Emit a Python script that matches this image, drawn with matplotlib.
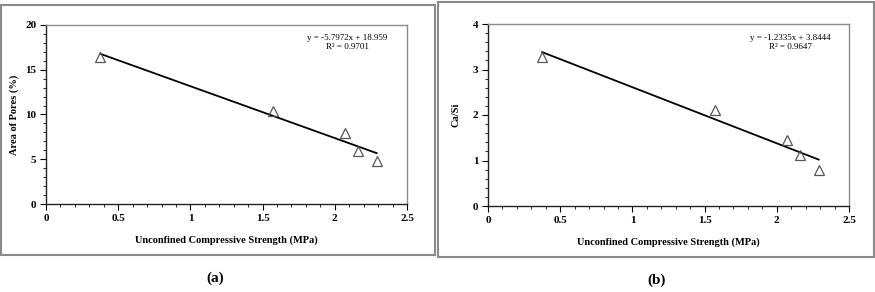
import numpy as np
import matplotlib.pyplot as plt
from matplotlib.patches import Rectangle
plt.switch_backend('agg')

plt.rcParams['font.family'] = ['Liberation Serif', 'DejaVu Serif']

ucs = [0.375, 1.57, 2.07, 2.16, 2.29]
pores = [16.4, 10.4, 7.9, 5.9, 4.8]
ca_si = [3.27, 2.12, 1.45, 1.12, 0.80]

fit_a = (-5.7972, 18.959, 0.9701)
fit_b = (-1.2335, 3.8444, 0.9647)
eq_a = ['y = -5.7972x + 18.959', 'R² = 0.9701']
eq_b = ['y = -1.2335x + 3.8444', 'R² = 0.9647']

fig = plt.figure(figsize=(8.75, 2.92), dpi=100)

# outer frames (pixel coords -> fraction)
W, H = 875., 292.
def frame(x0, y0, x1, y1):
    fig.patches.append(Rectangle((x0 / W, 1 - y1 / H), (x1 - x0) / W, (y1 - y0) / H,
                                 transform=fig.transFigure, fill=False,
                                 edgecolor='#8a8a8a', lw=1.5))

frame(1, 5, 435, 255)
frame(438, 2, 874, 257)

def panel(rect, y, fit, ylim, yticks, ylabel, eq, eq_xy, ylab_x):
    ax = fig.add_axes(rect)
    xs = np.array([ucs[0], ucs[-1]])
    ax.plot(xs, fit[0] * xs + fit[1], color='k', lw=1.3)
    ax.plot(ucs, y, linestyle='none', marker='^', markersize=6.5,
            markerfacecolor='none', markeredgecolor='#555555', markeredgewidth=0.9)
    ax.set_xlim(0, 2.5)
    ax.set_ylim(*ylim)
    ax.set_xticks([0, 0.5, 1, 1.5, 2, 2.5])
    ax.set_xticklabels(['0', '0.5', '1', '1.5', '2', '2.5'])
    ax.set_xticks(np.arange(0, 2.51, 0.1), minor=True)
    ax.set_yticks(yticks)
    ax.set_yticks(np.arange(ylim[0], ylim[1] + 1e-9, yticks[1] / 5.), minor=True)
    for sp in ['top', 'right']:
        ax.spines[sp].set_color('#8a8a8a')
        ax.spines[sp].set_linewidth(1.0)
    for sp in ['left', 'bottom']:
        ax.spines[sp].set_color('#222222')
        ax.spines[sp].set_linewidth(1.0)
    ax.tick_params(which='major', direction='out', length=4, width=0.8,
                   labelsize=8, pad=3)
    ax.tick_params(which='minor', direction='out', length=2, width=0.6)
    for lab in ax.get_xticklabels() + ax.get_yticklabels():
        lab.set_fontweight('bold')
    ax.set_xlabel('Unconfined Compressive Strength (MPa)', fontsize=7.5,
                  fontweight='bold', labelpad=9)
    ax.set_ylabel(ylabel, fontsize=7.5, fontweight='bold')
    ax.yaxis.set_label_coords(ylab_x, 0.5)
    fig.text(eq_xy[0] / W, 1 - eq_xy[1] / H, eq[0],
             ha='center', va='center', fontsize=6.5)
    fig.text(eq_xy[0] / W, 1 - (eq_xy[1] + 9) / H, eq[1],
             ha='center', va='center', fontsize=6.5)
    return ax

panel([46 / W, 1 - 204 / H, 361 / W, 179 / H], pores, fit_a, (0, 20),
      [0, 5, 10, 15, 20], 'Area of Pores (%)', eq_a, (347, 38), -0.076)
panel([488 / W, 1 - 206 / H, 361 / W, 182 / H], ca_si, fit_b, (0, 4),
      [0, 1, 2, 3, 4], 'Ca/Si', eq_b, (790, 38), -0.076)

fig.text(215 / W, 1 - 278 / H, '(a)', ha='center', va='center', fontsize=11,
         fontweight='bold')
fig.text(657 / W, 1 - 280 / H, '(b)', ha='center', va='center', fontsize=11,
         fontweight='bold')

fig.savefig('out.png', dpi=100)
